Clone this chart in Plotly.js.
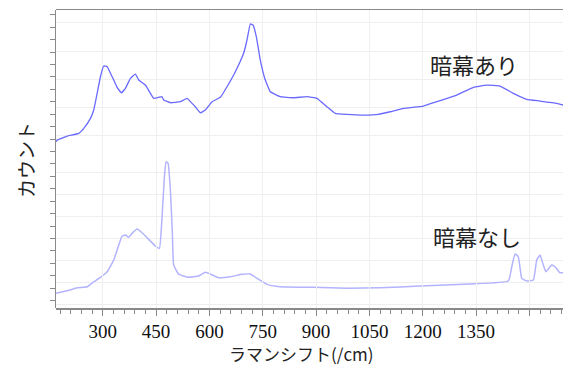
<!DOCTYPE html>
<html>
<head>
<meta charset="utf-8">
<script src="https://cdn.plot.ly/plotly-3.0.1.min.js"></script>
<style>html,body{margin:0;padding:0;background:#fff;}#chart{width:563px;height:365px;}</style>
</head>
<body>
<div id="chart"></div>
<script>
// Raman shift (/cm) and counts — 暗幕あり (with blackout curtain)
const shiftWith = [168.5,172,200,232.6,246.6,265.4,274.7,284.3,293.5,302.8,312.4,326.4,340.5,352.5,363.8,377.8,391.9,401.2,420,443.3,466.9,471.4,490.2,518.3,537.2,551.2,560.5,574.5,588.6,607.4,630.7,649.5,672.9,696.2,705.7,715,722.6,731.9,743.1,757.2,771.2,799.3,836.7,874.3,902.4,930.5,953.8,986.7,1033.4,1075.5,1108.4,1145.8,1201.7,1239.6,1295.8,1342.4,1380.1,1417.5,1454.8,1492.5,1529.9,1576.8,1594.5];
const countsWith = [1793,1854,1995,2091,2267,2621,2914,3505,4092,4470,4446,4092,3717,3526,3682,4035,4187,3975,3798,3328,3385,3268,3173,3208,3328,3151,3031,2819,2914,3208,3363,3738,4269,4919,5390,5955,5920,5506,4682,3975,3561,3385,3349,3385,3328,3031,2798,2762,2738,2762,2854,2974,3056,3208,3445,3717,3798,3763,3505,3293,3233,3151,3091];

// 暗幕なし (without blackout curtain)
const shiftWithout = [168.5,200,228.1,256.2,274.7,293.5,312.4,330.9,345,354.5,363.8,373.1,382.6,396.7,410.7,429.3,448.1,459.3,466.9,473.4,478.1,483.8,490.2,495.8,499.5,513.5,541.6,569.7,588.6,602.6,625.9,658.8,691.7,715,733.8,761.9,799.3,892.9,986.7,1080.3,1192.7,1333.2,1440.8,1450.4,1459.6,1468.9,1478.5,1492.5,1511.1,1520.6,1529.9,1539.2,1546.7,1562.7,1572,1586,1594.5];
const countsWithout = [516,634,771,816,1044,1244,1498,2030,2711,3121,3166,3062,3243,3439,3271,2971,2666,2562,4000,5816,6498,6425,5211,3243,1803,1393,1244,1303,1471,1393,1225,1271,1380,1393,1198,925,816,789,744,771,848,939,1075,1725,2303,2180,1198,1075,1121,2030,2257,1803,1498,1803,1725,1453,1453];

const xTickVals = [300,450,600,750,900,1050,1200,1350,1500];
const xTickText = ['300','450','600','750','900','1050','1200','1350',''];
const xTitle = 'ラマンシフト(/cm)';
const yTitle = 'カウント';
const labelWith = '暗幕あり';
const labelWithout = '暗幕なし';

const gridC = '#efefef';
const axisC = '#8a8a8a';
const serif = 'Liberation Serif, serif';
const jp = 'Noto Sans CJK JP, sans-serif';

const traces = [
  {x: shiftWith, y: countsWith, xaxis: 'x2', yaxis: 'y2', type: 'scatter', mode: 'lines',
   line: {color: 'rgba(80,80,255,0.85)', width: 1.3, shape: 'spline', smoothing: 0.3}, hoverinfo: 'skip', showlegend: false},
  {x: shiftWithout, y: countsWithout, xaxis: 'x', yaxis: 'y', type: 'scatter', mode: 'lines',
   line: {color: '#b3b3ff', width: 1.5, shape: 'spline', smoothing: 0.35}, hoverinfo: 'skip', showlegend: false},
  {x: [null], y: [null], xaxis: 'x', yaxis: 'y3', type: 'scatter', mode: 'lines', hoverinfo: 'skip', showlegend: false}
];

const layout = {
  width: 563, height: 365,
  margin: {l: 56, r: 0, t: 10, b: 57},
  font: {family: serif, size: 19, color: '#111'},
  paper_bgcolor: '#ffffff', plot_bgcolor: 'rgba(0,0,0,0)',
  showlegend: false,
  xaxis: {
    anchor: 'y', domain: [0, 1], range: [168.5, 1594.5],
    tickmode: 'array', tickvals: xTickVals, ticktext: xTickText,
    ticks: 'outside', ticklen: 6, tickcolor: axisC, tickwidth: 1,
    showline: true, linecolor: axisC, linewidth: 1.5,
    showgrid: true, gridcolor: gridC, zeroline: false,
    tickfont: {family: serif, size: 19, color: '#111'},
    minor: {tickmode: 'linear', tick0: 0, dtick: 30, ticks: 'outside', ticklen: 4, tickcolor: axisC, showgrid: false}
  },
  xaxis2: {
    anchor: 'y2', matches: 'x', side: 'top', range: [168.5, 1594.5],
    tickmode: 'array', tickvals: xTickVals, showticklabels: false, ticks: '',
    showline: true, linecolor: axisC, linewidth: 1.5,
    showgrid: true, gridcolor: gridC, zeroline: false
  },
  yaxis: {
    anchor: 'x', domain: [0, 0.51], range: [-150, 6759],
    tick0: 0, dtick: 1000, showticklabels: false, ticks: '',
    showline: false, showgrid: true, gridcolor: gridC, zeroline: false
  },
  yaxis2: {
    anchor: 'x2', domain: [0.53, 1], range: [1500, 6450],
    tick0: 0, dtick: 1000, showticklabels: false, ticks: '',
    showline: false, showgrid: true, gridcolor: gridC, zeroline: false
  },
  yaxis3: {
    anchor: 'x', domain: [0, 1], range: [-0.59, 23.39],
    tick0: 0, dtick: 1, showticklabels: false,
    ticks: 'outside', ticklen: 5, tickcolor: axisC,
    showline: true, linecolor: axisC, linewidth: 1.5,
    showgrid: false, zeroline: false
  },
  annotations: [
    {text: labelWith, xref: 'paper', yref: 'paper', x: (474 - 56) / 507, y: (308 - 64) / 298,
     xanchor: 'center', yanchor: 'middle', showarrow: false, font: {family: jp, size: 22, color: '#222'}},
    {text: labelWithout, xref: 'paper', yref: 'paper', x: (477 - 56) / 507, y: (308 - 236) / 298,
     xanchor: 'center', yanchor: 'middle', showarrow: false, font: {family: jp, size: 22, color: '#222'}},
    {text: xTitle, xref: 'paper', yref: 'paper', x: (301 - 56) / 507, y: (308 - 353) / 298,
     xanchor: 'center', yanchor: 'middle', showarrow: false, font: {family: jp, size: 17, color: '#222'}},
    {text: yTitle, xref: 'paper', yref: 'paper', x: (25 - 56) / 507, y: (308 - 160) / 298,
     xanchor: 'center', yanchor: 'middle', textangle: -90, showarrow: false, font: {family: jp, size: 19, color: '#222'}}
  ]
};

Plotly.newPlot('chart', traces, layout, {staticPlot: true, displayModeBar: false});
</script>
</body>
</html>
